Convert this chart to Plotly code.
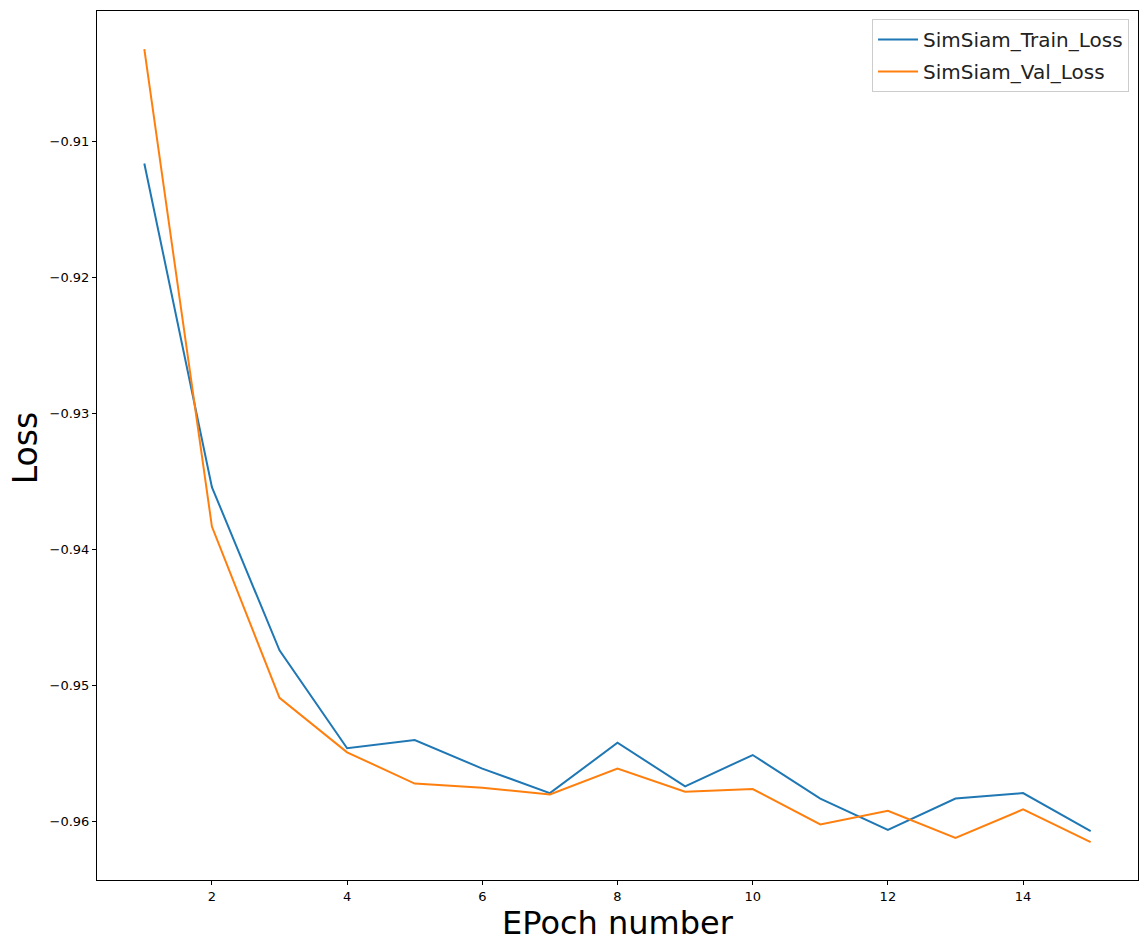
import plotly.graph_objects as go

epochs = list(range(1, 16))
train_loss = [-0.9116, -0.9354, -0.9474, -0.9546, -0.9540, -0.9561, -0.9579, -0.9542,
              -0.9574, -0.9551, -0.9583, -0.9606, -0.9583, -0.9579, -0.9607]
val_loss = [-0.9032, -0.9383, -0.9509, -0.9549, -0.9572, -0.9575, -0.9580, -0.9561,
            -0.9578, -0.9576, -0.9602, -0.9592, -0.9612, -0.9591, -0.9615]
x_ticks = [2, 4, 6, 8, 10, 12, 14]
y_ticks = [-0.96, -0.95, -0.94, -0.93, -0.92, -0.91]

FONT = "DejaVu Sans"

fig = go.Figure()
fig.add_trace(go.Scatter(x=epochs, y=train_loss, mode="lines", name="SimSiam_Train_Loss",
                         line=dict(color="#1f77b4", width=2), legendgroup="a"))
fig.add_trace(go.Scatter(x=epochs, y=val_loss, mode="lines", name="SimSiam_Val_Loss",
                         line=dict(color="#ff7f0e", width=2), legendgroup="b"))

axis_common = dict(showgrid=False, zeroline=False, showline=True, linecolor="black",
                   linewidth=1, mirror=True, ticks="outside", ticklen=4, tickwidth=1,
                   tickcolor="black", tickfont=dict(family=FONT, size=13, color="black"),
                   automargin=False)

fig.update_xaxes(range=[0.3, 15.7], tickvals=x_ticks, ticktext=[str(v) for v in x_ticks],
                 **axis_common)
fig.update_yaxes(range=[-0.96429, -0.90039], tickvals=y_ticks,
                 ticktext=[f"{v:.2f}".replace("-", "\u2212") for v in y_ticks],
                 **axis_common)

fig.update_layout(
    width=1139, height=943,
    margin=dict(l=97, r=1, t=11, b=63),
    plot_bgcolor="white", paper_bgcolor="white",
    font=dict(family=FONT, color="black"),
    legend=dict(x=0.9914, y=0.9908, xanchor="right", yanchor="top",
                bgcolor="rgba(255,255,255,0.8)", bordercolor="#cccccc", borderwidth=1,
                font=dict(family=FONT, size=20, color="#222222"),
                tracegroupgap=3, itemwidth=40),
    showlegend=True,
    annotations=[
        dict(text="EPoch number", xref="paper", yref="paper", x=0.5, y=-0.049,
             xanchor="center", yanchor="middle", showarrow=False, borderpad=0,
             font=dict(family=FONT, size=32, color="black")),
        dict(text="Loss", xref="paper", yref="paper", x=-0.069, y=0.497, textangle=-90,
             xanchor="center", yanchor="middle", showarrow=False, borderpad=0,
             font=dict(family=FONT, size=33, color="black")),
    ],
)

fig.write_html("out.html")
